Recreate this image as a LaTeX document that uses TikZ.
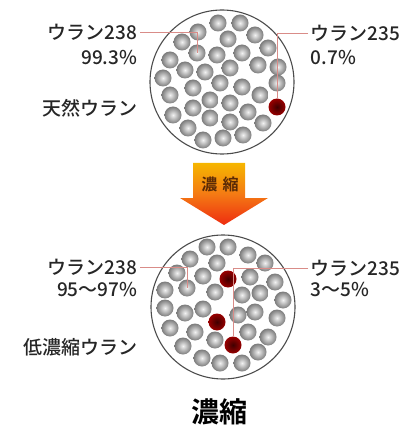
\documentclass[tikz,border=0pt]{standalone}
\usepackage{fontspec}
\setmainfont{Noto Sans CJK JP}[BoldFont={Noto Sans CJK JP Bold}]
\newfontfamily\jpmedium{Noto Sans CJK JP Medium}

\definecolor{txtgray}{HTML}{262626}
\definecolor{linered}{HTML}{D98C88}
\definecolor{arrtop}{HTML}{F6B600}
\definecolor{arrmid}{HTML}{F47A14}
\definecolor{arrbot}{HTML}{EE2C10}
\definecolor{arrtxt}{HTML}{5A2A06}

\begin{document}
\begin{tikzpicture}[x=1pt, y=-1pt]

\useasboundingbox (0,0) rectangle (406,430);

\tikzstyle{ball}=[circle, inner sep=0pt, minimum size=17pt,
inner color=white!90!gray, outer color=black!52];
\tikzstyle{uball}=[circle, inner sep=0pt, minimum size=17pt,
inner color=black!75!red, outer color=red!60!black];
\tikzstyle{pellet}=[draw=black!70, line width=1.1pt];
\tikzstyle{lbl}=[inner sep=2.5pt, text=txtgray, font=\jpmedium\fontsize{19}{22}\selectfont];
\tikzstyle{lead}=[draw=linered, line width=0.6pt];

% natural uranium
\draw[pellet] (222,82) circle (72);
\foreach \x/\y in {218/23, 240/23, 198/32, 255/35, 182/42, 228/39, 268/48,
  217/55, 242/53, 170/60, 258/65, 278/67, 185/70, 205/72, 230/68, 163/78,
  220/83, 277/83, 193/88, 242/87, 260/95, 170/95, 210/100, 230/103, 193/108,
  248/112, 173/115, 210/118, 230/122, 263/123, 188/128, 203/140, 223/138, 243/135}
  \node[ball] at (\x,\y) {};
\node[ball] (na8) at (197,53) {};
\node[uball] (na5) at (277,107) {};

\node[lbl, anchor=east] (na8t) at (140,32) {ウラン238};
\node[lbl, anchor=east] (na8p) at (140,58) {99.3\%};
\node[lbl, anchor=west] (na5t) at (308,33) {ウラン235};
\node[lbl, anchor=west] (na5p) at (308,58) {0.7\%};
\node[lbl, anchor=east] (nat) at (140,108) {天然ウラン};

% arrow
\shade[top color=arrtop, bottom color=arrbot, middle color=arrmid]
  (193,163) -- (245,163) -- (245,198) -- (268,198) -- (224,225)
  -- (180,198) -- (193,198) -- cycle;
\node[text=arrtxt, font=\fontsize{16}{18}\selectfont\bfseries] (arr) at (220,184) {濃\,\,縮};

% low enriched uranium
\draw[pellet] (223,307) circle (72);
\foreach \x/\y in {207/247, 228/247, 248/255, 190/259, 217/263, 265/263,
  177/273, 203/276, 250/277, 275/282, 165/290, 215/292, 242/295, 260/293,
  283/300, 165/308, 185/313, 203/309, 238/315, 255/312, 277/318, 170/328,
  195/332, 215/340, 248/332, 268/337, 183/346, 258/352, 202/358, 220/363, 242/363}
  \node[ball] at (\x,\y) {};
\node[ball] (le8) at (187,288) {};
\node[uball] at (228,279) {};
\node[uball] at (217,322) {};
\node[uball] (le5) at (233,345) {};

\node[lbl, anchor=east] (le8t) at (140,267) {ウラン238};
\node[lbl, anchor=east] (le8p) at (140,290) {95～97\%};
\node[lbl, anchor=west] (le5t) at (308,268) {ウラン235};
\node[lbl, anchor=west] (le5p) at (308,290) {3～5\%};
\node[lbl, anchor=east] (lowt) at (140,347) {低濃縮ウラン};

\node[text=black, font=\fontsize{28}{32}\selectfont\bfseries] (title) at (219,412) {濃縮};

% lines
\draw[lead] (na8t.east) -| (na8.center);
\draw[lead] (na5t.west) -| (na5.north);
\draw[lead] (le8t.east) -| (le8.center);
\draw[lead] (le5t.west) -| (le5.north);

\end{tikzpicture}
\end{document}
